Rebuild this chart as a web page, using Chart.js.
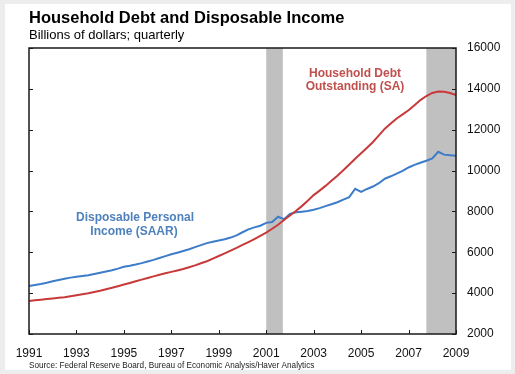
<!DOCTYPE html>
<html>
<head>
<meta charset="utf-8">
<script src="https://cdn.jsdelivr.net/npm/chart.js@4"></script>
<style>
  html, body { margin: 0; padding: 0; background: #ffffff; }
  #wrap { width: 515px; height: 374px; }
</style>
</head>
<body>
<div id="wrap"><canvas id="chart" width="515" height="374"></canvas></div>
<script>
// quarterly, 1991Q1 .. 2009Q1
const START_YEAR = 1991;
const householdDebt = [
  3620, 3650, 3680, 3710,
  3740, 3770, 3800, 3850,
  3900, 3950, 4000, 4060,
  4120, 4190, 4260, 4340,
  4420, 4500, 4580, 4660,
  4740, 4820, 4900, 4970,
  5040, 5110, 5180, 5270,
  5360, 5460, 5560, 5690,
  5820, 5950, 6080, 6220,
  6360, 6500, 6640, 6800,
  6960, 7150, 7350, 7580,
  7800, 8020, 8260, 8520,
  8800, 9020, 9250, 9500,
  9750, 10020, 10300, 10580,
  10850, 11120, 11400, 11720,
  12050, 12300, 12550, 12750,
  12950, 13200, 13450, 13650,
  13800, 13870, 13860, 13800,
  13700,
];
const disposableIncome = [
  4350, 4400, 4450, 4510,
  4580, 4640, 4700, 4760,
  4800, 4840, 4880, 4940,
  5000, 5060, 5120, 5200,
  5290, 5340, 5400, 5470,
  5550, 5630, 5720, 5810,
  5900, 5980, 6060, 6150,
  6250, 6350, 6450, 6520,
  6580, 6640, 6720, 6830,
  6980, 7120, 7220, 7300,
  7440, 7480, 7740, 7620,
  7880, 7960, 7990, 8020,
  8080, 8160, 8260, 8350,
  8450, 8580, 8700, 9110,
  8960, 9100, 9220, 9380,
  9600, 9720, 9850, 9980,
  10150, 10280, 10380, 10480,
  10600, 10920, 10780, 10750,
  10720,
];
const recessions = [
  [2001.0, 2001.7],
  [2007.75, 2009.0],
];
const yearTicks = [1991, 1993, 1995, 1997, 1999, 2001, 2003, 2005, 2007, 2009];

const RED = "#c8393a";
const BLUE = "#3d7cc9";
const FONT = "Arial, 'Liberation Sans', sans-serif";

function toPoints(values) {
  return values.map((v, i) => ({ x: START_YEAR + i / 4, y: v }));
}

// background, recession bars, frame, inward ticks and text labels
const decor = {
  id: "decor",
  beforeDraw(chart) {
    const ctx = chart.ctx;
    ctx.save();
    ctx.fillStyle = "#ededed";
    ctx.fillRect(0, 0, chart.width, chart.height);
    ctx.fillStyle = "#ffffff";
    ctx.fillRect(5, 4, chart.width - 9, chart.height - 8);
    ctx.restore();
  },
  beforeDatasetsDraw(chart) {
    const { ctx, chartArea, scales } = chart;
    ctx.save();
    ctx.fillStyle = "#c0c0c0";
    recessions.forEach(([a, b]) => {
      const x1 = scales.x.getPixelForValue(a);
      const x2 = scales.x.getPixelForValue(b);
      ctx.fillRect(x1, chartArea.top, x2 - x1, chartArea.bottom - chartArea.top);
    });
    ctx.restore();
  },
  afterDatasetsDraw(chart) {
    const { ctx, chartArea, scales } = chart;
    const { left, right, top, bottom } = chartArea;
    ctx.save();
    ctx.strokeStyle = "#1a1a1a";
    ctx.lineWidth = 1.5;
    ctx.strokeRect(left, top, right - left, bottom - top);
    ctx.lineWidth = 1;
    ctx.beginPath();
    scales.y.ticks.forEach((t) => {
      const y = Math.round(scales.y.getPixelForValue(t.value)) + 0.5;
      ctx.moveTo(right - 4, y);
      ctx.lineTo(right, y);
      ctx.moveTo(left, y);
      ctx.lineTo(left + 4, y);
    });
    yearTicks.forEach((yr) => {
      const x = Math.round(scales.x.getPixelForValue(yr)) + 0.5;
      ctx.moveTo(x, bottom);
      ctx.lineTo(x, bottom - 4);
    });
    ctx.stroke();

    ctx.fillStyle = "#000000";
    ctx.textAlign = "left";
    ctx.textBaseline = "alphabetic";
    ctx.font = "bold 16.5px " + FONT;
    ctx.fillText("Household Debt and Disposable Income", 29, 23);
    ctx.font = "13px " + FONT;
    ctx.fillText("Billions of dollars; quarterly", 29, 39);
    ctx.fillStyle = "#222222";
    ctx.font = "8.2px " + FONT;
    ctx.fillText("Source: Federal Reserve Board, Bureau of Economic Analysis/Haver Analytics", 29, 368);

    ctx.textAlign = "center";
    ctx.font = "bold 12px " + FONT;
    ctx.fillStyle = "#c0504d";
    ctx.fillText("Household Debt", 355, 77);
    ctx.fillText("Outstanding (SA)", 355, 90);
    ctx.fillStyle = "#4f81bd";
    ctx.fillText("Disposable Personal", 135, 221);
    ctx.fillText("Income (SAAR)", 134, 235);
    ctx.restore();
  },
};

new Chart(document.getElementById("chart"), {
  type: "line",
  data: {
    datasets: [
      {
        label: "Household Debt Outstanding (SA)",
        data: toPoints(householdDebt),
        borderColor: RED,
        borderWidth: 2,
        pointRadius: 0,
        tension: 0,
      },
      {
        label: "Disposable Personal Income (SAAR)",
        data: toPoints(disposableIncome),
        borderColor: BLUE,
        borderWidth: 2,
        pointRadius: 0,
        tension: 0,
      },
    ],
  },
  options: {
    responsive: false,
    animation: false,
    layout: { padding: { left: 29, top: 48, right: 0, bottom: 0 } },
    plugins: {
      legend: { display: false },
      tooltip: { enabled: false },
    },
    scales: {
      x: {
        type: "linear",
        min: 1991,
        max: 2009,
        grid: { display: false, drawTicks: false },
        border: { display: false },
        afterFit: (scale) => {
          scale.height = 40;
        },
        afterBuildTicks: (scale) => {
          scale.ticks = yearTicks.map((v) => ({ value: v }));
        },
        ticks: {
          padding: 12,
          maxRotation: 0,
          autoSkip: false,
          color: "#111111",
          font: { family: FONT, size: 12 },
          callback: (v) => String(v),
        },
      },
      y: {
        position: "right",
        min: 2000,
        max: 16000,
        grid: { display: false, drawTicks: false },
        border: { display: false },
        afterFit: (scale) => {
          scale.width = 59;
        },
        ticks: {
          stepSize: 2000,
          padding: 11,
          color: "#111111",
          font: { family: FONT, size: 12 },
          callback: (v) => String(v),
        },
      },
    },
  },
  plugins: [decor],
});
</script>
</body>
</html>
